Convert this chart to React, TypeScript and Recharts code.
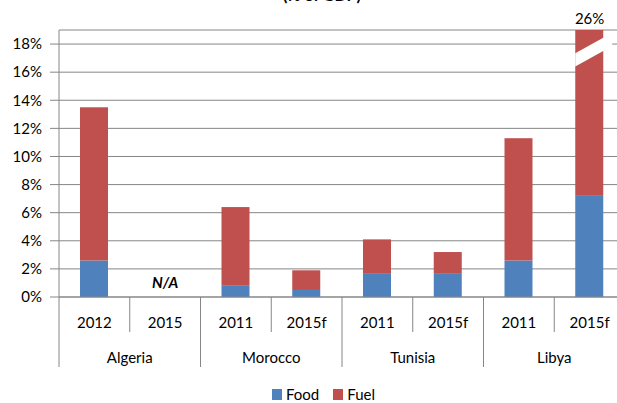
import {
  BarChart, Bar, XAxis, YAxis, CartesianGrid, Legend, ReferenceDot,
} from 'recharts'

// values (% of GDP)
const YEARS = ['2012', '2015', '2011', '2015f', '2011', '2015f', '2011', '2015f']
const COUNTRIES = ['Algeria', 'Algeria', 'Morocco', 'Morocco', 'Tunisia', 'Tunisia', 'Libya', 'Libya']
const FOOD = [2.6, null, 0.8, 0.5, 1.7, 1.7, 2.6, 7.2]
const FUEL = [10.9, null, 5.6, 1.4, 2.4, 1.5, 8.7, 18.8]
const Y_TICKS = [0, 2, 4, 6, 8, 10, 12, 14, 16, 18]
const Y_MAX = 19
const BROKEN = 'Libya|2015f'
const BROKEN_TOTAL = '26%'
// white break stripe on the clipped bar, in % units: [left low, left high, right low, right high]
const BREAK_AT = [16.4, 17.35, 17.5, 18.45]

const FOOD_COLOR = '#4f81bd'
const FUEL_COLOR = '#c0504d'
const AXIS_COLOR = '#868686'
const FONT = 'Lato, "Open Sans", sans-serif'

const CHART_W = 626
const CHART_H = 403
const MARGIN = { top: 30, right: 1, left: 0, bottom: 0 }
const YAXIS_W = 59
const BAND = (CHART_W - MARGIN.left - MARGIN.right - YAXIS_W) / YEARS.length

const data = YEARS.map((year, i) => ({
  key: `${COUNTRIES[i]}|${year}`,
  year,
  country: COUNTRIES[i],
  food: FOOD[i],
  fuel: FUEL[i],
}))

const XTick = ({ x, y, index, payload }: any) => {
  const d = data.find(r => r.key === payload.value) ?? data[index]
  const i = data.indexOf(d)
  const left = x - BAND / 2
  const groupStart = i % 2 === 0
  return (
    <g>
      <line x1={left} x2={left} y1={y} y2={y + (groupStart ? 70 : 35)} stroke={AXIS_COLOR} />
      {i === data.length - 1 && (
        <line x1={x + BAND / 2} x2={x + BAND / 2} y1={y} y2={y + 70} stroke={AXIS_COLOR} />
      )}
      <text x={x} y={y + 25} textAnchor="middle" dominantBaseline="central"
        fontSize={15} fontFamily={FONT} fill="#000">{d.year}</text>
      {groupStart && (
        <text x={x + BAND / 2} y={y + 60} textAnchor="middle" dominantBaseline="central"
          fontSize={15} fontFamily={FONT} fill="#000">{d.country}</text>
      )}
    </g>
  )
}

const FuelShape = ({ x, y, width, height, payload }: any) => {
  if (!height) return null
  if (payload.key !== BROKEN) return <rect x={x} y={y} width={width} height={height} fill={FUEL_COLOR} />
  // the bar is cut at the top of the axis, so scale from the visible part
  const base = y + height
  const shown = Math.min(payload.food + payload.fuel, Y_MAX) - payload.food
  const ppu = height / shown
  const py = (v: number) => base - (v - payload.food) * ppu
  const [l0, l1, r0, r1] = BREAK_AT
  const ext = 9
  const slope = (py(r0) - py(l0)) / width
  return (
    <g>
      <rect x={x} y={y} width={width} height={height} fill={FUEL_COLOR} />
      <polygon
        fill="#fff"
        points={`${x},${py(l0)} ${x},${py(l1)} ${x + width + ext},${py(r1) + slope * ext} ${x + width + ext},${py(r0) + slope * ext}`}
      />
    </g>
  )
}

const LegendContent = ({ payload }: any) => (
  <div style={{ height: 36, paddingTop: 18, paddingLeft: 272, display: 'flex', boxSizing: 'border-box' }}>
    {(payload ?? []).map((p: any) => (
      <div key={p.value} style={{ display: 'flex', alignItems: 'center', marginRight: 14, height: 18 }}>
        <span style={{ width: 10, height: 11, background: p.color, display: 'inline-block', marginRight: 4 }} />
        <span style={{ fontFamily: FONT, fontSize: 15, color: '#000' }}>{p.value}</span>
      </div>
    ))}
  </div>
)

export default function App() {
  return (
    <div style={{ position: 'fixed', top: 0, left: 0, width: 617, height: 403, overflow: 'hidden', background: '#fff' }}>
      <div style={{
        position: 'absolute', top: -15, left: 0, width: 644, textAlign: 'center',
        fontFamily: FONT, fontSize: 16, fontWeight: 700, color: '#000',
      }}>
        (% of GDP)
      </div>
      <BarChart width={CHART_W} height={CHART_H} data={data} margin={MARGIN}>
        <CartesianGrid vertical={false} stroke={AXIS_COLOR} />
        <XAxis
          dataKey="key"
          height={70}
          tickSize={0}
          tickMargin={0}
          interval={0}
          axisLine={{ stroke: AXIS_COLOR }}
          tickLine={false}
          tick={<XTick />}
        />
        <YAxis
          width={YAXIS_W}
          domain={[0, Y_MAX]}
          allowDataOverflow
          ticks={Y_TICKS}
          tickFormatter={v => `${v}%`}
          tickSize={9}
          tickMargin={8}
          axisLine={{ stroke: AXIS_COLOR }}
          tickLine={{ stroke: AXIS_COLOR }}
          tick={{ fontSize: 15, fontFamily: FONT, fill: '#000' }}
        />
        <Legend verticalAlign="bottom" content={<LegendContent />} />
        <Bar dataKey="food" name="Food" stackId="a" fill={FOOD_COLOR} barSize={28} isAnimationActive={false} />
        <Bar dataKey="fuel" name="Fuel" stackId="a" fill={FUEL_COLOR} barSize={28} isAnimationActive={false}
          shape={<FuelShape />} />
        <ReferenceDot
          x="Algeria|2015" y={1} r={0} fill="none" stroke="none"
          label={{ value: 'N/A', position: 'center', fontSize: 15, fontFamily: FONT, fontWeight: 700, fontStyle: 'italic', fill: '#000' }}
        />
        <ReferenceDot
          x={BROKEN} y={Y_MAX} r={0} fill="none" stroke="none"
          label={{ value: BROKEN_TOTAL, position: 'top', offset: 6, fontSize: 15, fontFamily: FONT, fill: '#000' }}
        />
      </BarChart>
    </div>
  )
}
